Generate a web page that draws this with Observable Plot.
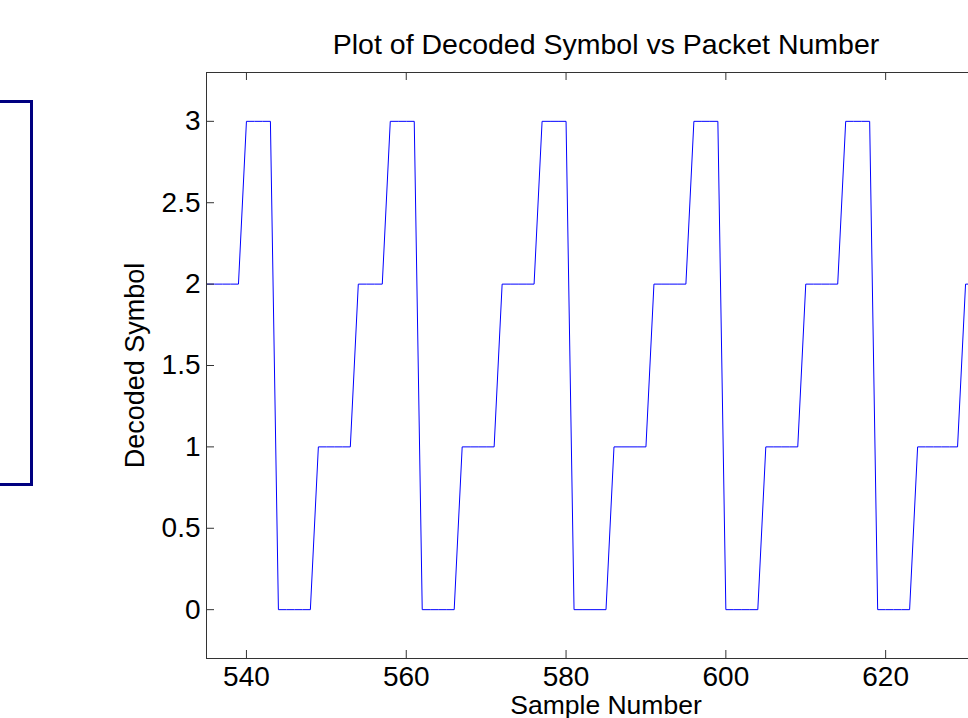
<!DOCTYPE html>
<html>
<head>
<meta charset="utf-8">
<script src="https://cdn.jsdelivr.net/npm/d3@7"></script>
<script src="https://cdn.jsdelivr.net/npm/@observablehq/plot@0.6"></script>
<style>
  html, body { margin: 0; padding: 0; background: #fff; overflow: hidden; width: 968px; height: 718px; }
  #wrap { position: relative; width: 968px; height: 718px; overflow: hidden; }
  #box { position: absolute; left: -20px; top: 100px; width: 47px; height: 380px; border: 3px solid #000080; z-index: 2; }
  #chart { position: absolute; left: 0; top: 0; z-index: 1; }
</style>
</head>
<body>
<div id="wrap">
  <div id="chart"></div>
  <div id="box"></div>
</div>
<script>
const sampleNumber = [
  535,536,537,538,539,540,541,542,543,544,545,546,547,548,549,550,551,552,553,554,
  555,556,557,558,559,560,561,562,563,564,565,566,567,568,569,570,571,572,573,574,
  575,576,577,578,579,580,581,582,583,584,585,586,587,588,589,590,591,592,593,594,
  595,596,597,598,599,600,601,602,603,604,605,606,607,608,609,610,611,612,613,614,
  615,616,617,618,619,620,621,622,623,624,625,626,627,628,629,630,631
];
const decodedSymbol = [
  2,2,2,2,2, 3,3,3,3, 0,0,0,0,0, 1,1,1,1,1, 2,
  2,2,2, 3,3,3,3, 0,0,0,0,0, 1,1,1,1,1, 2,2,2,
  2,2, 3,3,3,3, 0,0,0,0,0, 1,1,1,1,1, 2,2,2,2,
  2, 3,3,3,3, 0,0,0,0,0, 1,1,1,1,1, 2,2,2,2,2,
  3,3,3,3, 0,0,0,0,0, 1,1,1,1,1,1, 2,2
];
const xTicks = [540, 560, 580, 600, 620];
const yTicks = [0, 0.5, 1, 1.5, 2, 2.5, 3];
const yTickLabels = ["0", "0.5", "1", "1.5", "2", "2.5", "3"];
const titleText = "Plot of Decoded Symbol vs Packet Number";
const xLabel = "Sample Number";
const yLabel = "Decoded Symbol";

const data = sampleNumber.map((s, i) => ({sample: s, symbol: decodedSymbol[i]}));

const W = 1040, H = 718, mL = 206, mR = 35, mT = 72, mB = 60;
const plotW = W - mL - mR, plotH = H - mT - mB;
const tick = 8;

const chart = Plot.plot({
  width: W,
  height: H,
  marginLeft: mL,
  marginRight: mR,
  marginTop: mT,
  marginBottom: mB,
  style: {fontFamily: "'Liberation Sans', Arial, sans-serif", fontSize: "28px", color: "#000", background: "#fff", maxWidth: "none", overflow: "visible"},
  x: {domain: [535, 635], axis: null},
  y: {domain: [-0.3, 3.3], axis: null},
  marks: [
    Plot.line(data, {x: "sample", y: "symbol", stroke: "#0000ff", strokeWidth: 1}),
    Plot.frame({stroke: "#333", strokeWidth: 1}),
    Plot.tickX(xTicks, {x: d => d, stroke: "#333", insetTop: plotH - tick}),
    Plot.tickX(xTicks, {x: d => d, stroke: "#333", insetBottom: plotH - tick}),
    Plot.tickY(yTicks, {y: d => d, stroke: "#333", insetRight: plotW - tick}),
    Plot.tickY(yTicks, {y: d => d, stroke: "#333", insetLeft: plotW - tick}),
    Plot.axisX({ticks: xTicks, tickSize: 0, tickPadding: 8, label: null, fontSize: 28}),
    Plot.axisY({ticks: yTicks, tickSize: 0, tickPadding: 6, label: null, fontSize: 28,
      tickFormat: d => yTickLabels[yTicks.indexOf(d)]}),
    Plot.text([titleText], {frameAnchor: "top", dy: -28, textAnchor: "middle", lineAnchor: "middle", fontSize: 28.5, fill: "#000"}),
    Plot.text([xLabel], {frameAnchor: "bottom", dy: 47, textAnchor: "middle", lineAnchor: "middle", fontSize: 26.5, fill: "#000"}),
    Plot.text([yLabel], {frameAnchor: "left", dx: -71, rotate: -90, textAnchor: "middle", lineAnchor: "middle", fontSize: 27, fill: "#000"})
  ]
});
document.getElementById("chart").appendChild(chart);
</script>
</body>
</html>
